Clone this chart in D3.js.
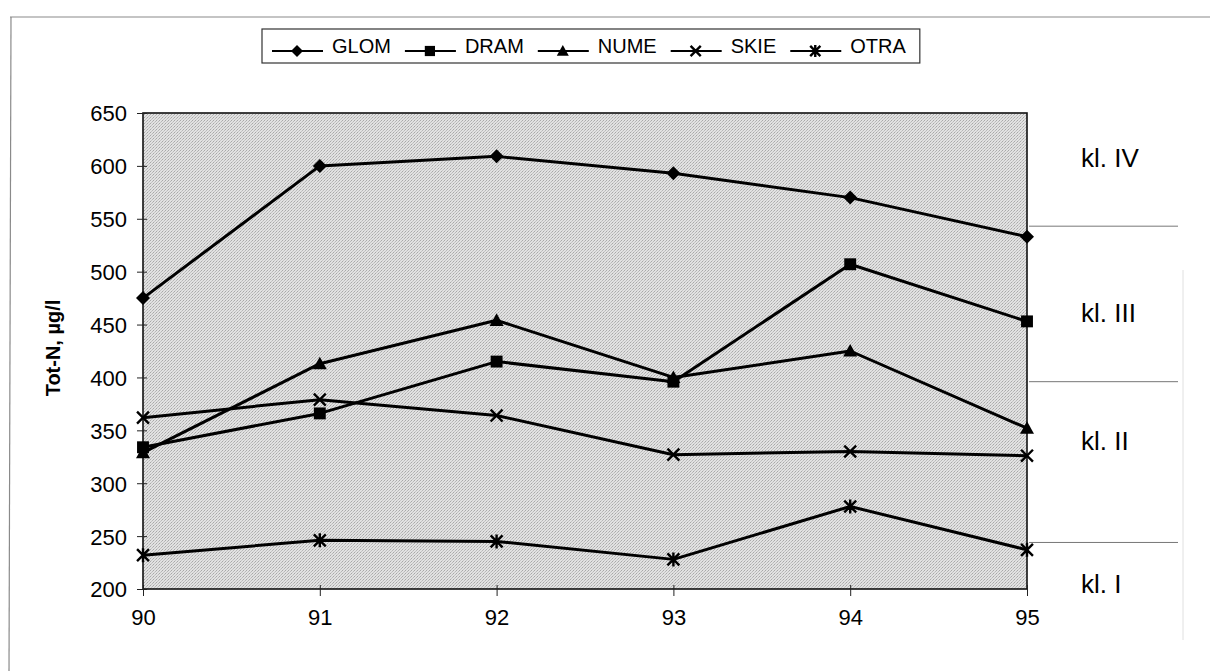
<!DOCTYPE html>
<html><head><meta charset="utf-8">
<script src="https://cdn.jsdelivr.net/npm/d3@7"></script>
<style>
html,body{margin:0;padding:0;background:#fff;}
svg text{font-family:"Liberation Sans",Arial,sans-serif;fill:#000;}
</style></head>
<body>
<svg id="c" width="1210" height="671"></svg>
<script>
const years = [90, 91, 92, 93, 94, 95];
const seriesNames = ["GLOM", "DRAM", "NUME", "SKIE", "OTRA"];
const GLOM = [475, 600, 609, 593, 570, 533];
const DRAM = [334, 366, 415, 396, 507, 453];
const NUME = [329, 413, 454, 400, 425, 352];
const SKIE = [362, 379, 364, 327, 330, 326];
const OTRA = [232, 246, 245, 228, 278, 237];
const yTicks = [200, 250, 300, 350, 400, 450, 500, 550, 600, 650];
const classBounds = [543, 396, 244];
const classLabels = ["kl. IV", "kl. III", "kl. II", "kl. I"];
const classLabelValues = [608, 461, 340, 205];
const yTitle = "Tot-N, µg/l";

const seriesData = [GLOM, DRAM, NUME, SKIE, OTRA];
const markers = ["diamond", "square", "triangle", "x", "star"];

const svg = d3.select("#c");
const L = 143, R = 1027, T = 113, B = 589;
const x = d3.scaleLinear().domain([90, 95]).range([L, R]);
const y = d3.scaleLinear().domain([200, 650]).range([B, T]);

// outer frame
svg.append("line").attr("x1", 10).attr("x2", 1210).attr("y1", 17).attr("y2", 17)
  .attr("stroke", "#8a8a8a").attr("stroke-width", 1.2);
svg.append("line").attr("x1", 11).attr("x2", 9).attr("y1", 17).attr("y2", 671)
  .attr("stroke", "#8a8a8a").attr("stroke-width", 1.2);
svg.append("line").attr("x1", 1183).attr("x2", 1183).attr("y1", 270).attr("y2", 640)
  .attr("stroke", "#e0e0e0").attr("stroke-width", 1);

// plot area
const defs = svg.append("defs");
const pat = defs.append("pattern").attr("id", "stip").attr("width", 3).attr("height", 3)
  .attr("patternUnits", "userSpaceOnUse");
pat.append("rect").attr("width", 3).attr("height", 3).attr("fill", "#e2e2e2");
pat.append("rect").attr("x", 0).attr("y", 0).attr("width", 1).attr("height", 1).attr("fill", "#a8a8a8");
pat.append("rect").attr("x", 2).attr("y", 1).attr("width", 1).attr("height", 1).attr("fill", "#b8b8b8");
pat.append("rect").attr("x", 1).attr("y", 2).attr("width", 1).attr("height", 1).attr("fill", "#c4c4c4");

svg.append("rect").attr("x", L).attr("y", T).attr("width", R - L).attr("height", B - T)
  .attr("fill", "url(#stip)").attr("stroke", "#111").attr("stroke-width", 1.6);

// class boundary lines
svg.selectAll(".cb").data(classBounds).enter().append("line")
  .attr("x1", R + 2).attr("x2", 1178)
  .attr("y1", d => y(d)).attr("y2", d => y(d))
  .attr("stroke", "#777").attr("stroke-width", 1);

svg.selectAll(".cl").data(classLabels).enter().append("text")
  .attr("x", 1081).attr("y", (d, i) => y(classLabelValues[i]))
  .attr("dy", "0.36em").attr("font-size", 26).text(d => d);

// axes
const yAxis = d3.axisLeft(y).tickValues(yTicks).tickSize(6).tickPadding(10);
const gy = svg.append("g").attr("transform", `translate(${L},0)`).call(yAxis);
gy.select(".domain").remove();
gy.selectAll(".tick line").attr("stroke", "#222").attr("x2", -6).attr("x1", 4);
gy.selectAll(".tick text").attr("font-size", 22).attr("dy", "0.36em");

const xAxis = d3.axisBottom(x).tickValues(years).tickFormat(d3.format("d")).tickSize(6).tickPadding(10);
const gx = svg.append("g").attr("transform", `translate(0,${B})`).call(xAxis);
gx.select(".domain").remove();
gx.selectAll(".tick line").attr("stroke", "#222").attr("y1", -4).attr("y2", 7);
gx.selectAll(".tick text").attr("font-size", 22).attr("dy", "0.9em");

// y title
svg.append("text").attr("transform", "translate(60,348) rotate(-90)")
  .attr("text-anchor", "middle").attr("font-size", 20).attr("font-weight", "bold").text(yTitle);

// markers
function drawMarker(g, type, cx, cy, s) {
  if (type === "diamond") {
    g.append("path").attr("d", `M${cx},${cy - s}L${cx + s},${cy}L${cx},${cy + s}L${cx - s},${cy}Z`).attr("fill", "#000");
  } else if (type === "square") {
    g.append("rect").attr("x", cx - s * 0.85).attr("y", cy - s * 0.85).attr("width", s * 1.7).attr("height", s * 1.7).attr("fill", "#000");
  } else if (type === "triangle") {
    g.append("path").attr("d", `M${cx},${cy - s}L${cx + s},${cy + s * 0.8}L${cx - s},${cy + s * 0.8}Z`).attr("fill", "#000");
  } else if (type === "x") {
    const k = s * 0.85;
    g.append("path").attr("d", `M${cx - k},${cy - k}L${cx + k},${cy + k}M${cx - k},${cy + k}L${cx + k},${cy - k}`)
      .attr("stroke", "#000").attr("stroke-width", 2.4).attr("fill", "none");
  } else if (type === "star") {
    const k = s * 0.85;
    g.append("path").attr("d", `M${cx - k},${cy - k}L${cx + k},${cy + k}M${cx - k},${cy + k}L${cx + k},${cy - k}M${cx},${cy - s}L${cx},${cy + s}`)
      .attr("stroke", "#000").attr("stroke-width", 2.4).attr("fill", "none");
  }
}

const line = d3.line().x((d, i) => x(years[i])).y(d => y(d));
seriesData.forEach((vals, si) => {
  const g = svg.append("g");
  g.append("path").datum(vals).attr("d", line).attr("fill", "none")
    .attr("stroke", "#000").attr("stroke-width", 3).attr("stroke-linejoin", "round");
  vals.forEach((v, i) => drawMarker(g, markers[si], x(years[i]), y(v), 7));
});

// legend
const lg = svg.append("g");
const box = lg.append("rect").attr("x", 262).attr("y", 29).attr("height", 34)
  .attr("fill", "#fff").attr("stroke", "#333").attr("stroke-width", 1.2);
let cx = 272;
const ly = 51;
seriesNames.forEach((n, i) => {
  lg.append("line").attr("x1", cx).attr("x2", cx + 51).attr("y1", ly).attr("y2", ly)
    .attr("stroke", "#000").attr("stroke-width", 2.2);
  drawMarker(lg, markers[i], cx + 25, ly, 6);
  const t = lg.append("text").attr("x", cx + 60).attr("y", 53).attr("font-size", 20).text(n);
  cx = cx + 60 + t.node().getComputedTextLength() + 14;
});
box.attr("width", cx - 262);
</script>
</body></html>
